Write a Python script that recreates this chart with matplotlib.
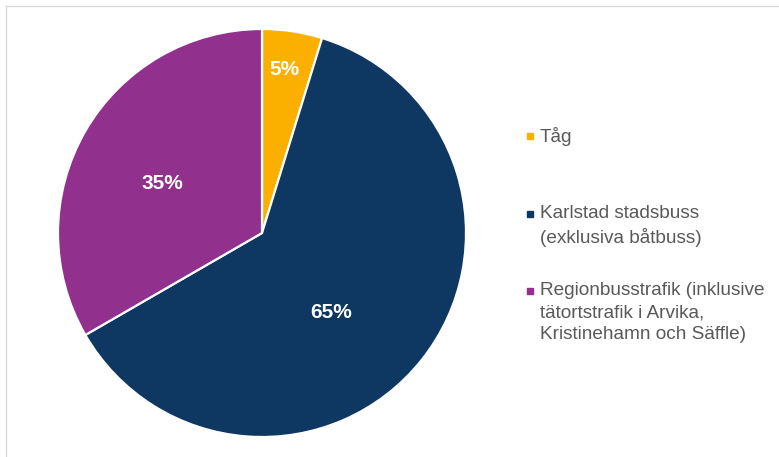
import matplotlib.pyplot as plt
from matplotlib.lines import Line2D

plt.rcParams['font.family'] = ['Liberation Sans', 'DejaVu Sans']

categories = ["Tåg",
              "Karlstad stadsbuss\n(exklusiva båtbuss)",
              "Regionbusstrafik (inklusive\ntätortstrafik i Arvika,\nKristinehamn och Säffle)"]
shares = [5, 65, 35]
colors = ["#FBB000", "#0E3761", "#92308D"]

# label spots inside the pie (pie radius = 1)
label_pos = [(0.11, 0.80), (0.34, -0.39), (-0.49, 0.245)]

W, H = 779, 457
fig = plt.figure(figsize=(W / 100, H / 100), dpi=100)

cx, cy, r = 262, 233, 204
ax = fig.add_axes([(cx - r) / W, (H - cy - r) / H, 2 * r / W, 2 * r / H])
wedges, _ = ax.pie(shares, colors=colors, startangle=90, counterclock=False,
                   wedgeprops=dict(edgecolor="white", linewidth=1.6))
ax.set_xlim(-1, 1)
ax.set_ylim(-1, 1)
ax.set_aspect("equal")

for v, (x, y) in zip(shares, label_pos):
    ax.text(x, y, f"{v}%", color="white", fontsize=15, fontweight="bold",
            ha="center", va="center")

# legend on the right
entries_top = [135, 213, 290]
for cat, col, ty in zip(categories, colors, entries_top):
    fig.text(540 / W, 1 - (ty - 8) / H, cat, color="#595959", fontsize=13.7,
             ha="left", va="top", linespacing=1.4)
    fig.add_artist(Line2D([530 / W], [1 - (ty + 1) / H], marker="s",
                          markersize=4.5, color=col, linestyle="none"))

# frame lines
fig.add_artist(Line2D([5.5 / W, 1], [1 - 5.5 / H] * 2, color="#D9D9D9", lw=1))
fig.add_artist(Line2D([5.5 / W] * 2, [0, 1 - 5.5 / H], color="#D9D9D9", lw=1))

fig.savefig("out.png", dpi=100, facecolor="white")
